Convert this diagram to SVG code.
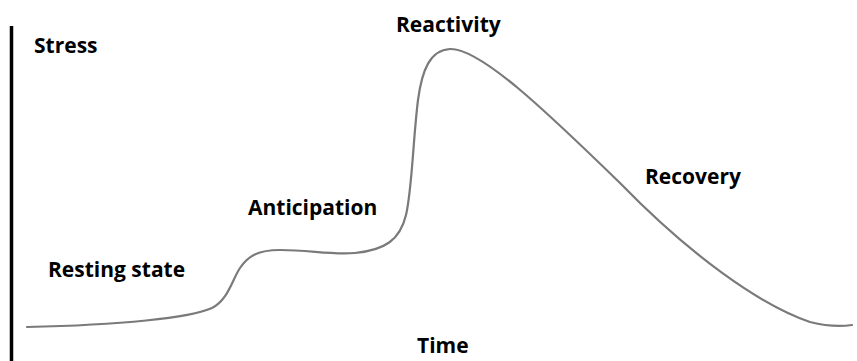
<svg xmlns="http://www.w3.org/2000/svg" width="857" height="361" viewBox="0 0 857 361">
<style>
.lbl{font-family:"Open Sans","Liberation Sans",sans-serif;font-weight:bold;font-size:21px;fill:#000}
.curve{fill:none;stroke:#7a7a7a;stroke-width:2.2;stroke-linecap:round}
.axis{stroke:#000;stroke-width:3.5}
</style>
<rect width="857" height="361" fill="#fff"/>
<g id="axis"><line class="axis" x1="11.5" y1="26" x2="11.5" y2="361"/></g>
<g id="connectors">
<path class="curve" d="M 27 327 C 120 325, 190 318, 212 308 C 228 300, 232 280, 240 268 C 248 256, 258 250, 280 250 C 310 250, 330 255, 355 253 C 385 250, 400 240, 406 215 C 412 190, 413 140, 418 100 C 422 70, 430 50, 450 49 C 480 48, 545 110, 620 183 C 690 255, 760 305, 810 322 C 830 327, 845 326, 852 325"/>
</g>
<g id="stress"><text class="lbl" x="34" y="53">Stress</text></g>
<g id="resting"><text class="lbl" x="48" y="277">Resting state</text></g>
<g id="anticipation"><text class="lbl" x="248" y="215">Anticipation</text></g>
<g id="reactivity"><text class="lbl" x="396" y="32">Reactivity</text></g>
<g id="recovery"><text class="lbl" x="645" y="184">Recovery</text></g>
<g id="time"><text class="lbl" x="417" y="353">Time</text></g>
</svg>
